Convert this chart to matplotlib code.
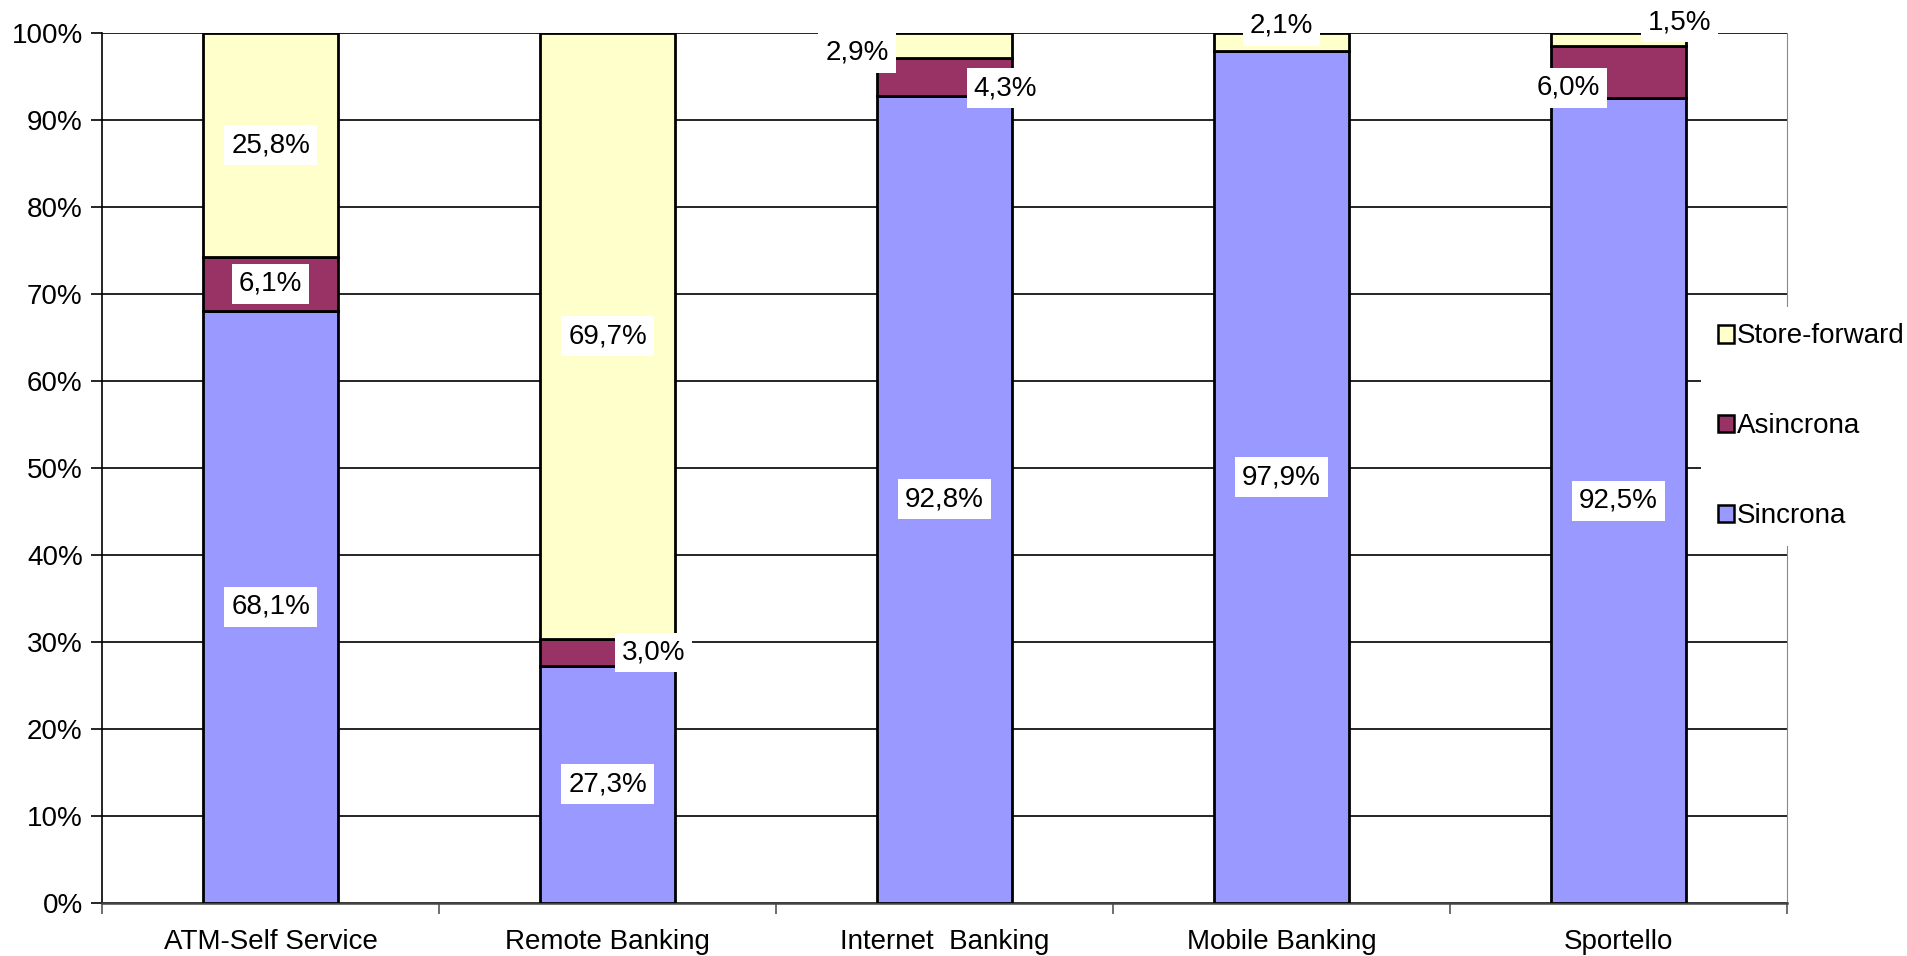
import matplotlib.pyplot as plt
import matplotlib.patches as mpatches
import numpy as np

plt.rcParams["font.family"] = ["Liberation Sans", "DejaVu Sans"]

categories = ["ATM-Self Service", "Remote Banking", "Internet  Banking",
              "Mobile Banking", "Sportello"]
sincrona = [68.1, 27.3, 92.8, 97.9, 92.5]
asincrona = [6.1, 3.0, 4.3, 0.0, 6.0]
store_forward = [25.8, 69.7, 2.9, 2.1, 1.5]

series = [("Sincrona", sincrona, "#9999FF"),
          ("Asincrona", asincrona, "#993366"),
          ("Store-forward", store_forward, "#FFFFCC")]

# label nudges (x in category units, y in percent) for labels moved off the bar
label_shift = {
    ("Asincrona", 1): (0.137, 0.0),
    ("Store-forward", 2): (-0.26, -0.8),
    ("Asincrona", 2): (0.18, -1.3),
    ("Store-forward", 3): (0.0, 1.9),
    ("Store-forward", 4): (0.18, 2.0),
    ("Asincrona", 4): (-0.15, -1.8),
}

fs = 20

fig = plt.figure(figsize=(19.08, 9.56), dpi=100)
ax = fig.add_axes([0.0535, 0.0554, 0.9366 - 0.0535, 0.9655 - 0.0554])

x = np.arange(len(categories))
bottom = np.zeros(len(categories))
for name, vals, color in series:
    vals = np.array(vals)
    ax.bar(x, vals, width=0.4, bottom=bottom, color=color,
           edgecolor="black", linewidth=2, zorder=3)
    for i, v in enumerate(vals):
        if v <= 0:
            continue
        dx, dy = label_shift.get((name, i), (0.0, 0.0))
        ax.text(x[i] + dx, bottom[i] + v / 2 + dy,
                f"{v:.1f}%".replace(".", ","),
                ha="center", va="center", fontsize=fs, zorder=5,
                bbox=dict(boxstyle="square,pad=0.25", fc="white", ec="none"))
    bottom += vals

ax.set_xlim(-0.5, len(categories) - 0.5)
ax.set_ylim(0, 100)
ax.set_yticks(np.arange(0, 101, 10))
ax.set_yticklabels([f"{t}%" for t in range(0, 101, 10)], fontsize=fs)
ax.yaxis.grid(True, color="black", linewidth=1.2)
ax.set_axisbelow(True)
ax.tick_params(axis="y", length=8, width=1.2, pad=6)

# category separators as ticks, names centred between them
ax.set_xticks(np.arange(-0.5, len(categories), 1.0))
ax.set_xticklabels([])
ax.set_xticks(x, minor=True)
ax.set_xticklabels(categories, minor=True, fontsize=fs)
ax.tick_params(axis="x", which="major", length=8, width=1.2, color="#555555")
ax.tick_params(axis="x", which="minor", length=0, pad=19)

ax.spines["top"].set_visible(False)
ax.spines["right"].set_color("#888888")
ax.spines["left"].set_linewidth(1.2)
ax.spines["bottom"].set_color("#444444")
ax.spines["bottom"].set_linewidth(1.8)

handles = [mpatches.Patch(facecolor=c, edgecolor="black", linewidth=1.8, label=n)
           for n, _, c in reversed(series)]
fig.legend(handles=handles, loc="center left", bbox_to_anchor=(0.8915, 0.554),
           fontsize=fs, frameon=True, fancybox=False, facecolor="white",
           edgecolor="none", framealpha=1, labelspacing=2.3,
           handlelength=0.6, handleheight=0.6, handletextpad=0.1,
           borderpad=0.6, borderaxespad=0)

fig.savefig("out.png", dpi=100)
